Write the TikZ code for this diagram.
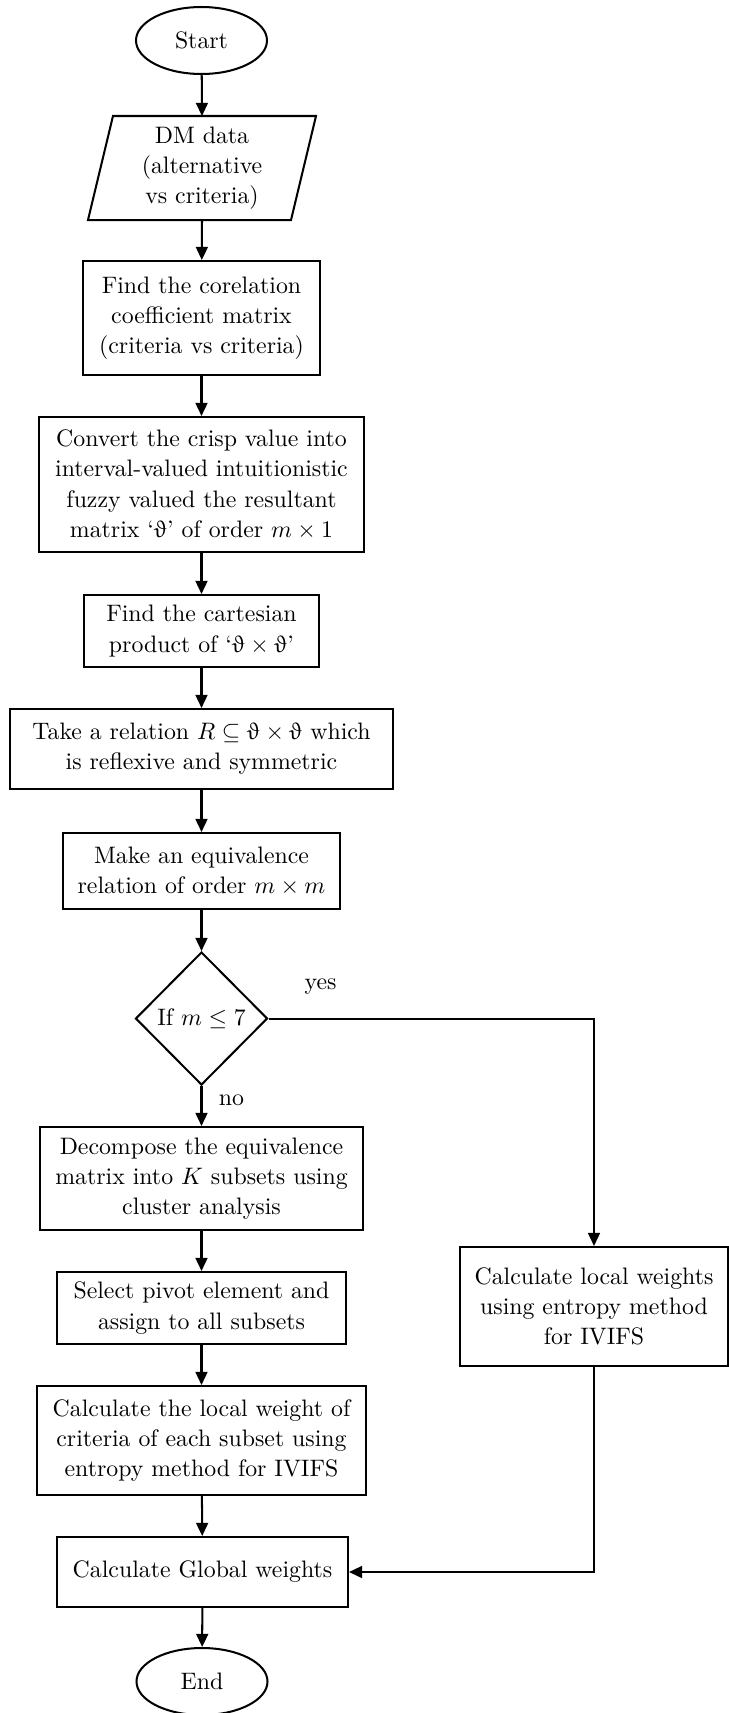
\documentclass[tikz,border=0pt]{standalone}
\usepackage{upgreek}
\usetikzlibrary{shapes.geometric,arrows.meta,calc}
\newlength\pxu
\setlength\pxu{0.42pt}
\newcommand\vth{\upvartheta}
\begin{document}
\begin{tikzpicture}[x=0.42pt,y=-0.42pt,line width=0.85pt,
  txt/.style={font=\fontsize{10}{12.7}\selectfont,align=center,inner sep=0pt},
  stepbox/.style={txt,draw,rectangle},
  terminal/.style={txt,draw,ellipse,minimum width=131\pxu,minimum height=67\pxu},
  decision/.style={txt,draw,diamond,minimum width=132\pxu,minimum height=133\pxu},
  flow/.style={-{Triangle[length=5.5pt,width=5pt]}},
  lbl/.style={font=\fontsize{10}{12.7}\selectfont}]
\useasboundingbox (0,0) rectangle (729,1713);

% main column
\node[terminal] (start) at (201.5,40.5) {Start};
\node[txt,minimum width=201\pxu,minimum height=102\pxu] (data) at (202,168)
  {DM data\\(alternative\\vs criteria)};
\draw ($(data.north west)+(12.5,0)$) -- ($(data.north east)+(12.5,0)$)
  -- ($(data.south east)+(-12.5,0)$) -- ($(data.south west)+(-12.5,0)$) -- cycle;
\node[stepbox,minimum width=237\pxu,minimum height=114\pxu] (corr) at (201.5,318)
  {Find the corelation\\coefficient matrix\\(criteria vs criteria)};
\node[stepbox,minimum width=325\pxu,minimum height=135\pxu] (conv) at (201.5,484.5)
  {Convert the crisp value into\\interval-valued intuitionistic\\fuzzy valued the resultant\\matrix `$\vth$' of order $m\times 1$};
\node[stepbox,minimum width=235\pxu,minimum height=72\pxu] (cart) at (201.5,631)
  {Find the cartesian\\product of `$\vth\times\vth$'};
\node[stepbox,minimum width=383\pxu,minimum height=80\pxu] (rel) at (201.5,749)
  {Take a relation $R\subseteq\vth\times\vth$ which\\is reflexive and symmetric};
\node[stepbox,minimum width=277\pxu,minimum height=76\pxu] (equiv) at (201.5,871)
  {Make an equivalence\\relation of order $m\times m$};
\node[decision] (test) at (201.5,1018.5) {If $m\le 7$};
\node[stepbox,minimum width=323\pxu,minimum height=103\pxu] (decomp) at (201.5,1178.5)
  {Decompose the equivalence\\matrix into $K$ subsets using\\cluster analysis};
\node[stepbox,minimum width=289\pxu,minimum height=72\pxu] (pivot) at (201.5,1308)
  {Select pivot element and\\assign to all subsets};
\node[stepbox,minimum width=329\pxu,minimum height=109\pxu] (local) at (201.5,1440.5)
  {Calculate the local weight of\\criteria of each subset using\\entropy method for IVIFS};
\node[stepbox,minimum width=291\pxu,minimum height=70\pxu] (global) at (202.5,1572)
  {Calculate Global weights};
\node[terminal] (end) at (202,1681.5) {End};

% side branch
\node[stepbox,minimum width=268\pxu,minimum height=119\pxu] (side) at (594,1306.5)
  {Calculate local weights\\using entropy method\\for IVIFS};

% connectors
\draw[flow] (start) -- (data.north);
\draw[flow] (data.south) -- (corr);
\draw[flow] (corr) -- (conv);
\draw[flow] (conv) -- (cart);
\draw[flow] (cart) -- (rel);
\draw[flow] (rel) -- (equiv);
\draw[flow] (equiv) -- (test);
\draw[flow] (test) -- node[lbl,pos=0.35,xshift=12.6pt]{no} (decomp);
\draw[flow] (test.east) -| node[lbl,pos=0.08,yshift=13.4pt]{yes} (side.north);
\draw[flow] (decomp) -- (pivot);
\draw[flow] (pivot) -- (local);
\draw[flow] (local) -- (global);
\draw[flow] (side.south) |- (global.east);
\draw[flow] (global) -- (end);
\end{tikzpicture}
\end{document}
